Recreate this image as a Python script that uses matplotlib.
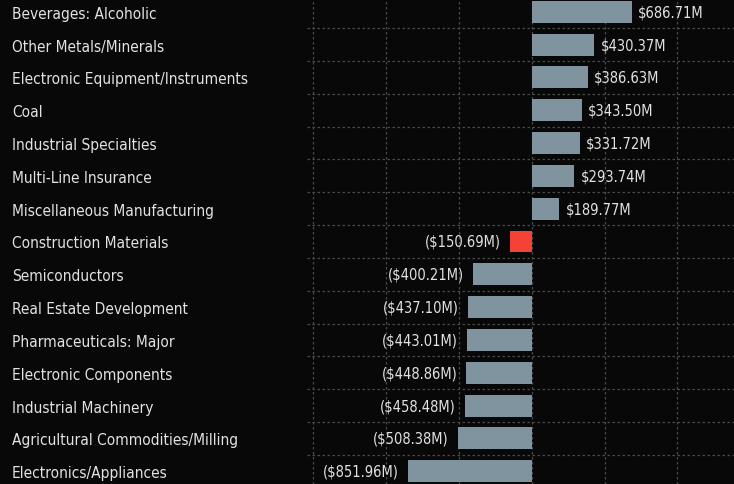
import matplotlib
matplotlib.use("Agg")
import matplotlib.pyplot as plt
from matplotlib import font_manager as fm
import numpy as np

categories = [
    "Beverages: Alcoholic",
    "Other Metals/Minerals",
    "Electronic Equipment/Instruments",
    "Coal",
    "Industrial Specialties",
    "Multi-Line Insurance",
    "Miscellaneous Manufacturing",
    "Construction Materials",
    "Semiconductors",
    "Real Estate Development",
    "Pharmaceuticals: Major",
    "Electronic Components",
    "Industrial Machinery",
    "Agricultural Commodities/Milling",
    "Electronics/Appliances",
]
values = [686.71, 430.37, 386.63, 343.50, 331.72, 293.74, 189.77,
          -150.69, -400.21, -437.10, -443.01, -448.86, -458.48, -508.38, -851.96]
highlight = "Construction Materials"

BG = "#080808"
BAR = "#7f949f"
RED = "#f44336"
TXT = "#e2e2e2"
GRID = "#4a4a4a"

# find a narrow font file
cands = []
for f in fm.fontManager.ttflist:
    base = f.fname.lower()
    if ("narrow" in base or "condensed" in base) and "bold" not in base and "oblique" not in base and "italic" not in base:
        cands.append(f.fname)
pref = None
for key in ["liberationsansnarrow-regular", "dejavusanscondensed.ttf", "condensed"]:
    for c in cands:
        if key in c.lower().replace("-", "").replace("_", "") or key in c.lower():
            pref = c
            break
    if pref:
        break
if pref:
    FP = fm.FontProperties(fname=pref, size=11.1)
    FPV = fm.FontProperties(fname=pref, size=10.5)
else:
    FP = fm.FontProperties(family="Roboto", size=11.1)
    FPV = fm.FontProperties(family="Roboto", size=10.5)

W, H, DPI = 734, 485, 100
fig = plt.figure(figsize=(W / DPI, H / DPI), dpi=DPI, facecolor=BG)
ax = fig.add_axes([307 / W, 0, 1 - 307 / W, 1], facecolor=BG)

y = np.arange(len(categories))
colors = [RED if c == highlight else BAR for c in categories]
ax.barh(y, values, height=0.67, color=colors, zorder=3)

ax.set_xlim(-1543, 1389)
ax.set_ylim(len(categories) - 0.61, -0.39)

ax.set_xticks([-1500, -1000, -500, 0, 500, 1000])
ax.set_yticks(y)
ax.set_yticks(y[:-1] + 0.5, minor=True)
ax.set_yticklabels(categories, fontproperties=FP)
ax.tick_params(axis="y", which="major", length=0, pad=295 * 72 / DPI, labelcolor=TXT)
for lab in ax.get_yticklabels():
    lab.set_horizontalalignment("left")
ax.tick_params(axis="y", which="minor", length=0)
ax.tick_params(axis="x", which="both", length=0, labelbottom=False)

ax.grid(axis="x", which="major", color=GRID, linestyle=(0, (2, 2)), linewidth=0.9, zorder=0)
ax.grid(axis="y", which="minor", color=GRID, linestyle=(0, (2, 2)), linewidth=0.9, zorder=0)
ax.set_axisbelow(True)
for s in ax.spines.values():
    s.set_visible(False)

def fmt(v):
    return f"${v:,.2f}M" if v >= 0 else f"(${abs(v):,.2f}M)"

for yi, v in zip(y, values):
    if v >= 0:
        ax.annotate(fmt(v), (v, yi), xytext=(4.5, 0), textcoords="offset points",
                    ha="left", va="center", color=TXT, fontproperties=FPV, zorder=4)
    else:
        ax.annotate(fmt(v), (v, yi), xytext=(-6.5, 0), textcoords="offset points",
                    ha="right", va="center", color=TXT, fontproperties=FPV, zorder=4)

fig.savefig("out.png", dpi=DPI, facecolor=BG)
